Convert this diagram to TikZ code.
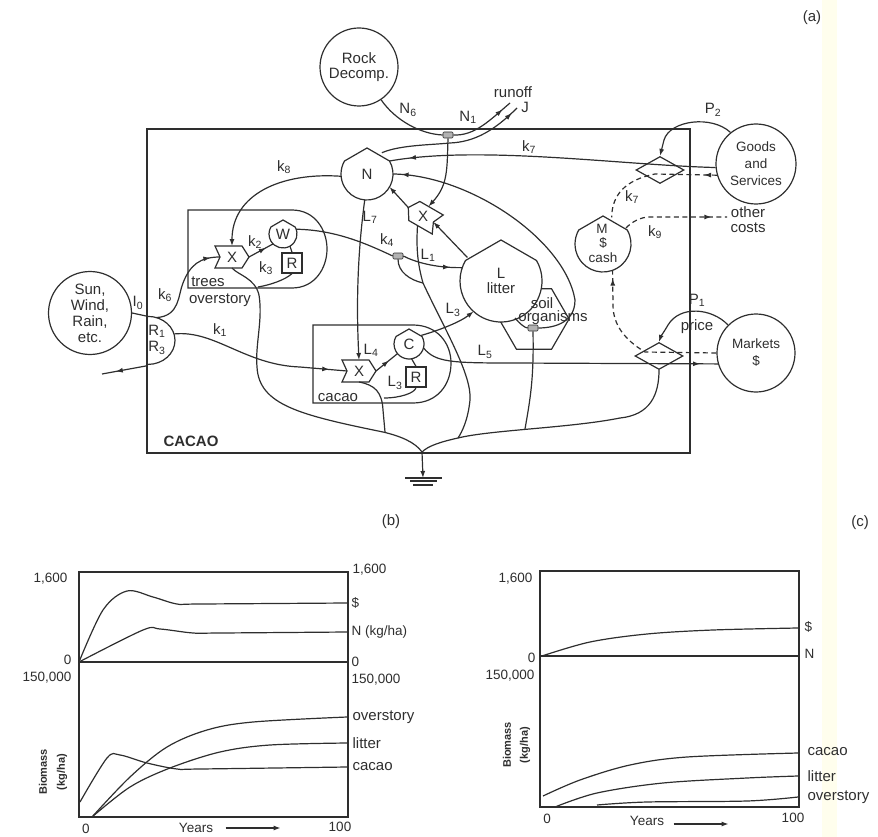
\documentclass[tikz,border=0pt]{standalone}
\usepackage{fontspec}
\setmainfont{Liberation Sans}
\usetikzlibrary{arrows.meta,shapes.geometric,decorations.markings}
\tikzset{
  lbl/.style={font=\fontsize{15}{15}\selectfont, inner sep=0pt, align=center},
  smalllbl/.style={font=\fontsize{13.5}{15}\selectfont, inner sep=0pt, align=center},
  source/.style={circle, draw, inner sep=0pt, align=center},
  tankbox/.style={circle, fill=white, inner sep=0pt, outer sep=0pt, align=center},
  gatebox/.style={circle, inner sep=0pt, outer sep=0pt, minimum size=28pt},
  respbox/.style={rectangle, draw, inner sep=0pt, minimum size=20pt},
  pricebox/.style={diamond, draw, inner sep=0pt, minimum width=48pt, minimum height=27pt},
  pillbox/.style={rectangle, rounded corners=1pt, draw, fill=gray!60, line width=.6pt, inner sep=0pt, minimum width=10pt, minimum height=6pt},
  midarrow/.style={postaction={decorate}, decoration={markings, mark=at position #1 with {\arrow{>}}}},
  moneyflow/.style={dash pattern=on 5pt off 3.5pt},
  curve/.style={smooth, tension=0.55}
}
\newcommand{\tank}[4]{
  \node[tankbox, lbl, minimum size=2*#3 pt] (#1) at #2 {#4};
  \draw (#1.150) -- (#1.90) -- (#1.30) arc[start angle=30, end angle=-210, radius=#3 pt];
}
\newcommand{\workgate}[3]{
  \node[gatebox, lbl] (#1) at #2 {X};
  \begin{scope}[shift={#2}, rotate=#3]
    \draw (-17,-11) -- (10,-11) -- (17,0) -- (10,11) -- (-17,11) -- (-12,0) -- cycle;
    \coordinate (#1-in) at (-12,0);
    \coordinate (#1-out) at (17,0);
    \coordinate (#1-top) at (0,-11);
    \coordinate (#1-bot) at (0,11);
  \end{scope}
}
\newcommand{\subl}[2]{#1\textsubscript{#2}}
\begin{document}
\begin{tikzpicture}[>={Latex[length=7pt,width=5pt]}, x=1pt, y=-1pt, line width=1.2pt, color=black!82]
\useasboundingbox (0,0) rectangle (878,837);
\fill[yellow!7] (822,0) rectangle (837,837);

\draw (147,129) rectangle (690,453);
\node[lbl, font=\fontsize{15}{15}\selectfont\bfseries] (cacaoLbl) at (191,441) {CACAO};
\node[lbl] (aLbl) at (812,18) {(a)};
\node[lbl] (bLbl) at (391,522) {(b)};
\node[lbl] (cLbl) at (860,523) {(c)};

\draw (188,210) -- (292,210) .. controls (315,210) and (327,230) .. (327,249) .. controls (327,268) and (315,288) .. (292,288) -- (188,288) -- cycle;
\draw (313,325) -- (413,325) .. controls (437,325) and (451,343) .. (451,363) .. controls (451,385) and (437,403) .. (413,403) -- (313,403) -- cycle;

\node[source, smalllbl, font=\fontsize{15}{15}\selectfont, minimum size=78pt] (rock) at (359,67) {Rock\\Decomp.};
\node[source, smalllbl, font=\fontsize{15}{16}\selectfont, minimum size=83pt] (sun) at (90,313) {Sun,\\Wind,\\Rain,\\etc.};
\node[source, smalllbl, font=\fontsize{13.5}{17}\selectfont, minimum size=80pt] (goods) at (756,164) {Goods\\and\\Services};
\node[source, smalllbl, font=\fontsize{13.5}{17}\selectfont, minimum size=78pt] (markets) at (756,353) {Markets\\\$};
\node[ellipse, inner sep=0pt, minimum width=54pt, minimum height=48pt] (rcv) at (148,341) {};
\draw (rcv.north) arc[start angle=90, end angle=-90, x radius=27pt, y radius=24pt];

\node[regular polygon, regular polygon sides=6, draw, inner sep=0pt, minimum size=70pt] (soil) at (534,319) {};
\tank{nit}{(367,174)}{26}{N}
\tank{lit}{(501,281)}{41}{L\\litter}
\tank{cash}{(603,244)}{28}{}
\tank{wood}{(283,234)}{14}{W}
\tank{coco}{(409,344)}{15}{C}
\node[smalllbl] (mLbl) at (602,229) {M};
\node[smalllbl] (dollarLbl) at (603,243) {\$};
\node[smalllbl] (cashLbl) at (603,258) {cash};
\node[respbox, lbl] (resT) at (292,263) {R};
\node[respbox, lbl] (resC) at (416,377) {R};
\workgate{xT}{(232,257)}{0}
\workgate{xN}{(423,216)}{150}
\workgate{xC}{(359,371)}{0}
\node[pricebox] (upD) at (660,170) {};
\node[pricebox] (loD) at (659,356) {};
\node[pillbox] (pillN) at (448,135) {};
\node[pillbox] (pillK) at (398,256) {};
\node[pillbox] (pillS) at (533,328) {};

\coordinate (runA) at (510,103);
\coordinate (runB) at (517,108);
\coordinate (lossE) at (102,374);
\coordinate (costE) at (727,217);
\coordinate (treesJ) at (258,287);
\coordinate (litJ) at (423,283);
\coordinate (cacJ) at (384,398);
\coordinate (cacE) at (385,432);
\coordinate (soilJ) at (525,429);
\coordinate (hexA) at (515,318);
\coordinate (sinkJ) at (422,452);
\coordinate (gnd) at (423,478);

\draw (rock.304) .. controls (395,120) and (420,134) .. (pillN.west);
\draw[midarrow=.85] (pillN.east) .. controls (475,136) and (490,120) .. (runA);
\draw[midarrow=.95] (nit.55) .. controls (400,145) and (430,145) .. (450,143) .. controls (475,142) and (495,130) .. (runB);
\draw[->] (pillN.south) .. controls (447,170) and (448,185) .. (xN-bot);
\draw[->] (nit.185) .. controls (280,172) and (232,195) .. (xT-top);
\draw[midarrow=.94] (goods.185) .. controls (620,165) and (480,145) .. (nit.30);
\draw[midarrow=.97] (pillS.east) .. controls (550,328) and (575,325) .. (575,300) .. controls (565,240) and (470,175) .. (nit.0);
\draw (hexA) .. controls (520,324) and (525,328) .. (pillS.west);
\draw[->] (xN-out) -- (nit.330);
\draw[->] (lit.145) -- (xN-in);
\draw[->] (nit.265) .. controls (358,250) and (356,300) .. (xC-top);

\draw (sun.east) -- (rcv.north);
\draw[midarrow=.9] (rcv.70) .. controls (180,316) and (178,295) .. (183,283) .. controls (190,265) and (200,257) .. (xT-in);
\draw[midarrow=.9] (rcv.15) .. controls (215,330) and (245,365) .. (300,367) -- (xC-in);
\draw[midarrow=.7] (rcv.south) -- (lossE);

\draw[midarrow=.7] (xT-out) -- (wood.225);
\draw (wood.300) -- (resT.north);
\draw (resT.south) .. controls (285,280) and (270,285) .. (treesJ);
\draw (xT-bot) .. controls (238,275) and (255,278) .. (259,295) .. controls (263,320) and (255,345) .. (257,367) .. controls (259,405) and (300,415) .. (383,432) .. controls (400,436) and (415,442) .. (sinkJ);
\draw (wood.20) .. controls (335,230) and (365,243) .. (pillK.west);
\draw[midarrow=.8] (pillK.east) .. controls (415,262) and (435,268) .. (lit.161);
\draw (pillK.south) .. controls (398,272) and (410,280) .. (litJ);
\draw (xN-top) .. controls (416,250) and (418,265) .. (litJ) .. controls (445,330) and (472,375) .. (470,400) .. controls (468,420) and (462,432) .. (458,438);

\draw[midarrow=.6] (xC-out) -- (coco.220);
\draw (coco.280) -- (resC.north);
\draw (resC.south) .. controls (415,393) and (400,398) .. (cacJ);
\draw (xC-bot) .. controls (375,385) and (382,392) .. (383,410) -- (cacE);
\draw[->] (coco.35) .. controls (440,330) and (460,322) .. (lit.228);
\draw[midarrow=.94] (coco.345) .. controls (435,362) and (450,363) .. (510,363) -- (markets.196);

\draw (loD.south) .. controls (659,395) and (650,415) .. (620,418) .. controls (570,428) and (490,430) .. (458,438) .. controls (440,442) and (428,446) .. (sinkJ);
\draw (pillS.south) .. controls (534,380) and (530,400) .. (soilJ);
\draw[->] (sinkJ) -- (gnd);
\draw ([xshift=-18pt]gnd) -- ([xshift=19pt]gnd);
\draw ([xshift=-13pt,yshift=-3pt]gnd) -- ([xshift=14pt,yshift=-3pt]gnd);
\draw ([xshift=-10pt,yshift=-7pt]gnd) -- ([xshift=10pt,yshift=-7pt]gnd);

\draw[->] (goods.129) .. controls (712,115) and (670,120) .. (664,140) -- (upD.north);
\draw[->] (markets.135) .. controls (712,308) and (680,305) .. (668,325) .. controls (664,332) and (661,336) .. (loD.north);
\draw[moneyflow, midarrow=.1] (goods.196) -- (655,174) .. controls (625,180) and (612,195) .. (cash.72);
\draw[moneyflow, midarrow=.85] (cash.35) .. controls (632,222) and (640,217) .. (650,217) -- (costE);
\draw[moneyflow, midarrow=.95] (markets.180) -- (645,352) .. controls (625,340) and (613,325) .. (613,305) -- (cash.290);

\node[lbl] (n6Lbl) at (408,110) {\subl{N}{6}};
\node[lbl] (n1Lbl) at (468,117) {\subl{N}{1}};
\node[lbl] (runLbl) at (513,92) {runoff};
\node[lbl] (jLbl) at (525,107) {J};
\node[lbl] (k8Lbl) at (284,167) {\subl{k}{8}};
\node[lbl] (k7Lbl) at (529,147) {\subl{k}{7}};
\node[lbl] (k7bLbl) at (632,197) {\subl{k}{7}};
\node[lbl] (k9Lbl) at (655,232) {\subl{k}{9}};
\node[lbl] (k2Lbl) at (255,242) {\subl{k}{2}};
\node[lbl] (k3Lbl) at (266,268) {\subl{k}{3}};
\node[lbl] (k4Lbl) at (387,240) {\subl{k}{4}};
\node[lbl] (k6Lbl) at (165,295) {\subl{k}{6}};
\node[lbl] (k1Lbl) at (220,330) {\subl{k}{1}};
\node[lbl] (l7Lbl) at (370,217) {\subl{L}{7}};
\node[lbl] (l1Lbl) at (428,255) {\subl{L}{1}};
\node[lbl] (l3Lbl) at (453,310) {\subl{L}{3}};
\node[lbl] (l4Lbl) at (371,350) {\subl{L}{4}};
\node[lbl] (l3bLbl) at (395,383) {\subl{L}{3}};
\node[lbl] (l5Lbl) at (485,352) {\subl{L}{5}};
\node[lbl] (p2Lbl) at (713,110) {\subl{P}{2}};
\node[lbl] (p1Lbl) at (697,300) {\subl{P}{1}};
\node[lbl] (priceLbl) at (697,327) {price};
\node[lbl] (i0Lbl) at (138,303) {\subl{I}{0}};
\node[lbl] (r1Lbl) at (157,331) {\subl{R}{1}};
\node[lbl] (r3Lbl) at (157,348) {\subl{R}{3}};
\node[lbl] (treesLbl) at (208,282) {trees};
\node[lbl] (overLbl) at (220,300) {overstory};
\node[lbl] (cacLbl) at (338,398) {cacao};
\node[lbl] (soilLbl) at (542,303) {soil};
\node[lbl] (orgLbl) at (553,318) {organisms};
\node[lbl] (otherLbl) at (748,220) {other\\costs};

\draw (79,572) rectangle (348,817);
\draw (79,662) -- (348,662);
\draw plot[curve] coordinates {(79,662) (103,610) (127,591) (153,597) (177,604) (200,604) (347,603)};
\draw plot[curve] coordinates {(79,662) (143,630) (160,629) (193,633) (220,633) (347,632)};
\draw plot[curve] coordinates {(80,802) (107,758) (120,755) (147,763) (177,769) (200,769) (347,767)};
\draw plot[curve] coordinates {(92,817) (130,777) (167,747) (207,730) (253,722) (347,717)};
\draw plot[curve] coordinates {(92,817) (130,787) (170,768) (220,752) (270,745) (347,743)};
\node[smalllbl, anchor=east] (b1600) at (68,579) {1,600};
\node[smalllbl, anchor=east] (b0) at (72,660) {0};
\node[smalllbl, anchor=east] (b150) at (72,678) {150,000};
\node[smalllbl, anchor=west] (br1600) at (352,570) {1,600};
\node[smalllbl, anchor=west] (brCash) at (351,603) {\$};
\node[smalllbl, anchor=west] (brN) at (351,632) {N (kg/ha)};
\node[smalllbl, anchor=west] (br0) at (351,662) {0};
\node[smalllbl, anchor=west] (br150) at (351,680) {150,000};
\node[lbl, anchor=west] (brOver) at (352,717) {overstory};
\node[lbl, anchor=west] (brLit) at (352,743) {litter};
\node[lbl, anchor=west] (brCac) at (352,767) {cacao};
\node[smalllbl, rotate=90, font=\fontsize{11}{11}\selectfont\bfseries] (bBio) at (43,772) {Biomass};
\node[smalllbl, rotate=90, font=\fontsize{11}{11}\selectfont\bfseries] (bKg) at (62,772) {(kg/ha)};
\node[smalllbl] (bx0) at (86,829) {0};
\node[smalllbl] (bYears) at (196,828) {Years};
\node[smalllbl] (bx100) at (340,827) {100};
\draw[->] ([xshift=12pt]bYears.east) -- ++(55,0);

\draw (540,571) rectangle (799,807);
\draw (540,656) -- (799,656);
\draw plot[curve] coordinates {(542,656) (590,642) (647,634) (713,630) (798,628)};
\draw plot[curve] coordinates {(543,796) (580,780) (630,765) (687,757) (798,753)};
\draw plot[curve] coordinates {(555,807) (597,793) (663,783) (747,778) (798,776)};
\draw plot[curve] coordinates {(597,805) (647,802) (747,801) (798,797)};
\node[smalllbl, anchor=east] (c1600) at (533,579) {1,600};
\node[smalllbl, anchor=east] (c0) at (536,658) {0};
\node[smalllbl, anchor=east] (c150) at (535,676) {150,000};
\node[smalllbl, anchor=west] (crCash) at (804,627) {\$};
\node[smalllbl, anchor=west] (crN) at (804,654) {N};
\node[lbl, anchor=west] (crCac) at (807,752) {cacao};
\node[lbl, anchor=west] (crLit) at (807,776) {litter};
\node[lbl, anchor=west] (crOver) at (807,797) {overstory};
\node[smalllbl, rotate=90, font=\fontsize{11}{11}\selectfont\bfseries] (cBio) at (507,745) {Biomass};
\node[smalllbl, rotate=90, font=\fontsize{11}{11}\selectfont\bfseries] (cKg) at (525,745) {(kg/ha)};
\node[smalllbl] (cx0) at (547,819) {0};
\node[smalllbl] (cYears) at (647,821) {Years};
\node[smalllbl] (cx100) at (793,818) {100};
\draw[->] ([xshift=9pt,yshift=-3pt]cYears.east) -- ++(55,0);
\end{tikzpicture}
\end{document}
